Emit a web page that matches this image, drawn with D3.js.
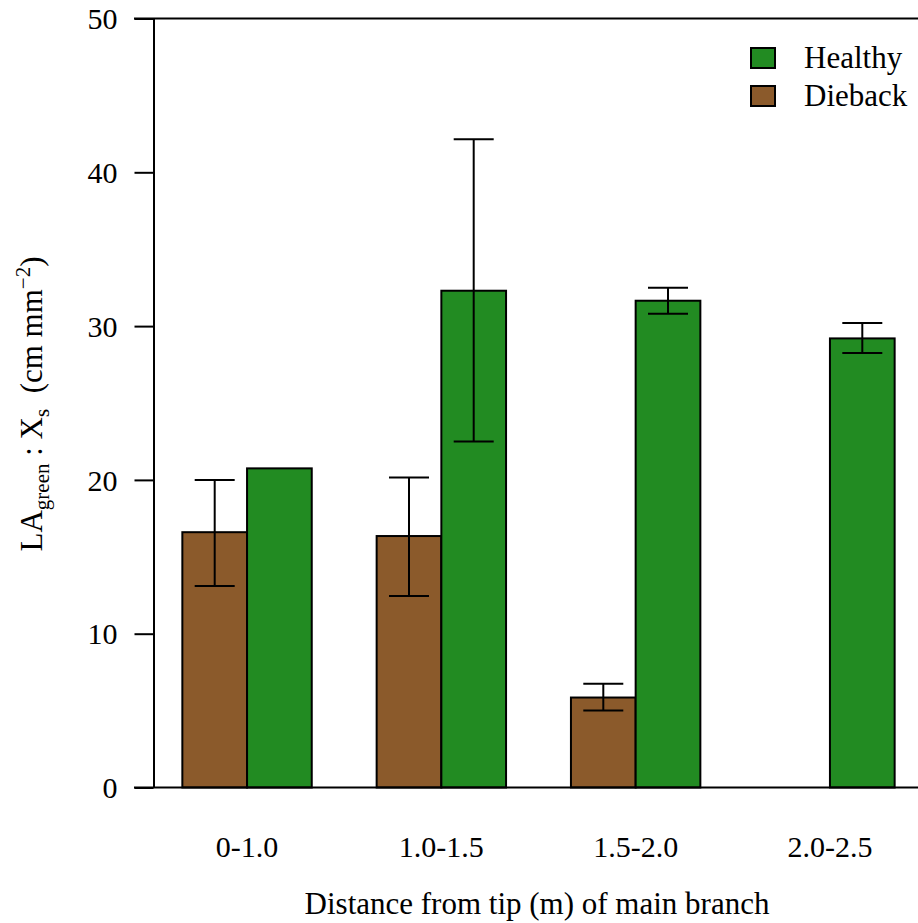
<!DOCTYPE html>
<html>
<head>
<meta charset="utf-8">
<script src="https://cdn.jsdelivr.net/npm/d3@7/dist/d3.min.js"></script>
<style>
  html, body { margin: 0; padding: 0; background: #ffffff; }
  svg text { font-family: "Liberation Serif", "Times New Roman", serif; fill: #000; }
</style>
</head>
<body>
<svg id="chart" width="918" height="923"></svg>
<script>
// Leaf area (green) to sapwood area ratio by distance from branch tip
const categories = ["0-1.0", "1.0-1.5", "1.5-2.0", "2.0-2.5"];
const seriesNames = ["Dieback", "Healthy"];
const diebackMean = [16.6, 16.35, 5.85, null];
const diebackLow  = [13.1, 12.45, 5.0, null];
const diebackHigh = [20.0, 20.15, 6.75, null];
const healthyMean = [20.75, 32.3, 31.65, 29.2];
const healthyLow  = [null, 22.5, 30.8, 28.25];
const healthyHigh = [null, 42.15, 32.5, 30.2];
const yTicks = [0, 10, 20, 30, 40, 50];
const legendItems = ["Healthy", "Dieback"];

const colors = { Healthy: "#228B22", Dieback: "#8B5A2B" };

const svg = d3.select("#chart");
const W = 918;

const y = d3.scaleLinear().domain([0, 50]).range([787.5, 18.5]);
const x0 = d3.scaleBand().domain(categories).range([149.9, 927.1])
  .paddingInner(0.334).paddingOuter(0.167);
const x1 = d3.scaleBand().domain(seriesNames).range([0, x0.bandwidth()]).padding(0);

// rows of bars built from the series arrays
const rows = [];
categories.forEach((c, i) => {
  rows.push({ cat: c, s: "Dieback", v: diebackMean[i], lo: diebackLow[i], hi: diebackHigh[i] });
  rows.push({ cat: c, s: "Healthy", v: healthyMean[i], lo: healthyLow[i], hi: healthyHigh[i] });
});
const present = rows.filter(d => d.v != null);

// bars
svg.append("g").selectAll("rect").data(present).join("rect")
  .attr("x", d => x0(d.cat) + x1(d.s))
  .attr("y", d => y(d.v))
  .attr("width", x1.bandwidth())
  .attr("height", d => y(0) - y(d.v))
  .attr("fill", d => colors[d.s])
  .attr("stroke", "#000")
  .attr("stroke-width", 2);

// error bars
const eb = present.filter(d => d.lo != null);
const cap = 20;
const eg = svg.append("g").attr("stroke", "#000").attr("stroke-width", 2);
eb.forEach(d => {
  const cx = x0(d.cat) + x1(d.s) + x1.bandwidth() / 2;
  eg.append("line").attr("x1", cx).attr("x2", cx).attr("y1", y(d.lo)).attr("y2", y(d.hi));
  eg.append("line").attr("x1", cx - cap).attr("x2", cx + cap).attr("y1", y(d.lo)).attr("y2", y(d.lo));
  eg.append("line").attr("x1", cx - cap).attr("x2", cx + cap).attr("y1", y(d.hi)).attr("y2", y(d.hi));
});

// y axis
const yAxis = svg.append("g").attr("transform", "translate(153.5,0)")
  .call(d3.axisLeft(y).tickValues(yTicks).tickSize(19).tickSizeOuter(0).tickPadding(17));
yAxis.selectAll("path, line").attr("stroke", "#000").attr("stroke-width", 2);
yAxis.selectAll("text").attr("font-size", 30).attr("dy", "0.34em")
  .style("font-family", '"Liberation Serif", serif');

// top and bottom frame lines
svg.append("g").attr("stroke", "#000").attr("stroke-width", 2)
  .selectAll("line").data([0, 50]).join("line")
  .attr("x1", 134).attr("x2", W)
  .attr("y1", d => y(d)).attr("y2", d => y(d));

// x category labels
const xAxis = svg.append("g").attr("transform", "translate(0,787.5)")
  .call(d3.axisBottom(x0).tickSize(0).tickPadding(0));
xAxis.select(".domain").remove();
xAxis.selectAll("text").attr("font-size", 30).attr("y", 69).attr("dy", 0)
  .style("font-family", '"Liberation Serif", serif');

// x title
svg.append("text").attr("x", 537).attr("y", 914).attr("text-anchor", "middle")
  .attr("font-size", 31).text("Distance from tip (m) of main branch");

// y title with sub/superscripts
const yt = svg.append("text").attr("transform", "translate(42,404) rotate(-90)")
  .attr("text-anchor", "middle").attr("font-size", 31);
yt.append("tspan").text("LA");
yt.append("tspan").attr("font-size", 21).attr("dy", 7).text("green");
yt.append("tspan").attr("dy", -7).text(" : X");
yt.append("tspan").attr("font-size", 21).attr("dy", 7).text("s");
yt.append("tspan").attr("dy", -7).text("\u00A0 (cm mm");
yt.append("tspan").attr("font-size", 21).attr("dy", -12).text("\u22122");
yt.append("tspan").attr("dy", 12).text(")");

// legend
const lg = svg.append("g");
legendItems.forEach((name, i) => {
  const yy = 48 + i * 38;
  lg.append("rect").attr("x", 751).attr("y", yy).attr("width", 24).attr("height", 20)
    .attr("fill", colors[name]).attr("stroke", "#000").attr("stroke-width", 2);
  lg.append("text").attr("x", 804).attr("y", yy + 20).attr("font-size", 31).text(name);
});
</script>
</body>
</html>
